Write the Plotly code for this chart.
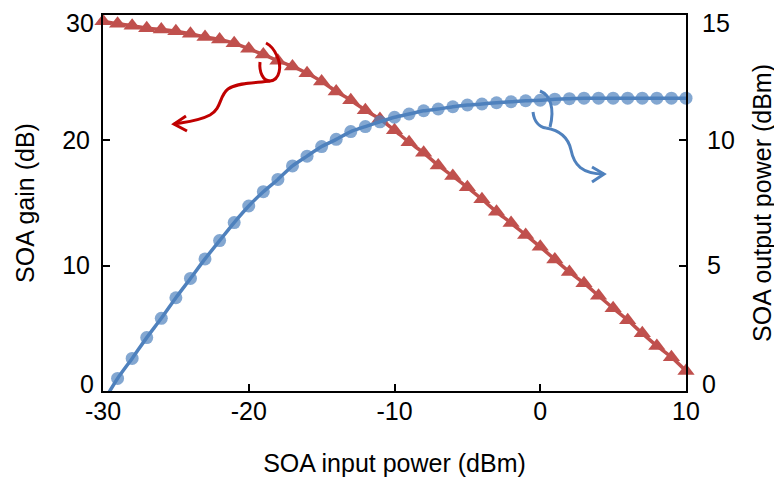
import plotly.graph_objects as go

# ---------------- data ----------------
input_power = [-30, -29, -28, -27, -26, -25, -24, -23, -22, -21, -20,
               -19, -18, -17, -16, -15, -14, -13, -12, -11, -10,
               -9, -8, -7, -6, -5, -4, -3, -2, -1, 0,
               1, 2, 3, 4, 5, 6, 7, 8, 9, 10]

soa_gain_db = [29.5, 29.3, 29.15, 28.95, 28.85, 28.7, 28.5, 28.25, 28.05, 27.75, 27.3,
               26.85, 26.35, 25.9, 25.35, 24.7, 23.9, 23.2, 22.4, 21.7, 20.8,
               19.85, 19.0, 18.0, 17.15, 16.25, 15.3, 14.3, 13.4, 12.45, 11.5,
               10.5, 9.5, 8.6, 7.6, 6.6, 5.65, 4.6, 3.6, 2.7, 1.6]

soa_output_dbm = [-0.45, 0.5, 1.3, 2.13, 2.9, 3.72, 4.49, 5.27, 6.0, 6.72, 7.38,
                  7.95, 8.44, 8.98, 9.37, 9.75, 10.04, 10.35, 10.55, 10.74, 10.92,
                  11.05, 11.18, 11.25, 11.34, 11.41, 11.45, 11.5, 11.54, 11.58, 11.6,
                  11.64, 11.66, 11.68, 11.68, 11.68, 11.68, 11.68, 11.68, 11.68, 11.68]

x_tick_vals = [-30, -20, -10, 0, 10]
x_tick_text = ["-30", "-20", "-10", "0", "10"]
y1_tick_vals = [0, 10, 20, 30]
y1_tick_text = ["0", "10", "20", "30"]
y2_tick_vals = [0, 5, 10, 15]
y2_tick_text = ["0", "5", "10", "15"]

# ---------------- styling ----------------
RED = "#C0504D"
BLUE = "#4F81BD"
ARROW_RED = "#C00000"
FONT = "Liberation Sans, Arial, sans-serif"
TICK_SIZE = 25
BODY = 8                      # default page margin around the plot div
W, H = 782 - BODY, 478 - BODY
PL, PT, PW, PH = 103, 15, 583, 376   # plot area in page pixels
ML, MT = PL - BODY, PT - BODY
MR, MB = W - ML - PW, H - MT - PH

fig = go.Figure()

fig.add_trace(go.Scatter(
    x=input_power, y=soa_gain_db, name="SOA gain",
    mode="lines+markers", line=dict(color=RED, width=3.5, shape="spline", smoothing=0.6),
    marker=dict(symbol="triangle-up", size=15, color=RED, line=dict(width=0)),
    cliponaxis=False, yaxis="y"))

fig.add_trace(go.Scatter(
    x=input_power, y=soa_output_dbm, name="SOA output power",
    mode="lines+markers", line=dict(color=BLUE, width=3.5, shape="spline", smoothing=0.6),
    marker=dict(symbol="circle", size=[0] + [13] * (len(input_power) - 1), color=BLUE,
                line=dict(width=0)),
    cliponaxis=False, yaxis="y2"))


# hand-drawn style pointer arrows (decorations, defined in page pixel space)
def px2d(px, py):
    return (-30 + (px - PL) * 40 / PW, (PT + PH - py) * 30 / PH)


def path(cmds):
    out = []
    for c, pts in cmds:
        coords = " ".join("%.4f,%.4f" % px2d(*p) for p in pts)
        out.append(c + " " + coords)
    return " ".join(out)


red_loop = path([("M", [(260, 62)]), ("C", [(259, 72), (263, 81), (270, 81)]),
                 ("C", [(280, 80), (282, 66), (277, 56)]),
                 ("C", [(274, 49), (270, 45), (266, 43)])])
red_tail = path([("M", [(270, 81)]), ("C", [(258, 83), (238, 82), (228, 89)]),
                 ("C", [(219, 96), (222, 108), (210, 115)]),
                 ("C", [(199, 121), (186, 122), (174, 124)])])
red_head = path([("M", [(186, 116)]), ("L", [(174, 124)]), ("L", [(187, 131)])])

blue_loop = path([("M", [(540, 91)]), ("C", [(550, 95), (555, 108), (550, 127)]),
                  ("M", [(533, 112)]), ("C", [(534, 121), (539, 127), (546, 128)])])
blue_tail = path([("M", [(546, 128)]), ("C", [(558, 130), (568, 136), (571, 150)]),
                  ("C", [(574, 165), (582, 174), (604, 174)])])
blue_head = path([("M", [(592, 167)]), ("L", [(604, 174)]), ("L", [(592, 182)])])

shapes = []
for p, col in [(red_loop, ARROW_RED), (red_tail, ARROW_RED), (red_head, ARROW_RED),
               (blue_loop, BLUE), (blue_tail, BLUE), (blue_head, BLUE)]:
    shapes.append(dict(type="path", path=p, xref="x", yref="y",
                       line=dict(color=col, width=3)))

# end tick labels of the value axes are nudged inward (as in the reference),
# so they are drawn as text annotations and blanked in the axis tick text
tick_font = dict(family=FONT, size=TICK_SIZE, color="black")
annotations = [
    dict(text=y1_tick_text[0], xref="paper", yref="paper", x=0, y=0, xanchor="right",
         yanchor="middle", xshift=-8, yshift=7, showarrow=False, font=tick_font, borderpad=0),
    dict(text=y1_tick_text[-1], xref="paper", yref="paper", x=0, y=1, xanchor="right",
         yanchor="middle", xshift=-8, yshift=-8, showarrow=False, font=tick_font, borderpad=0),
    dict(text=y2_tick_text[0], xref="paper", yref="paper", x=1, y=0, xanchor="left",
         yanchor="middle", xshift=15, yshift=7, showarrow=False, font=tick_font, borderpad=0),
    dict(text=y2_tick_text[-1], xref="paper", yref="paper", x=1, y=1, xanchor="left",
         yanchor="middle", xshift=15, yshift=-8, showarrow=False, font=tick_font, borderpad=0),
]
y1_axis_text = [""] + y1_tick_text[1:-1] + [""]
y2_axis_text = [""] + y2_tick_text[1:-1] + [""]

axis_common = dict(showgrid=False, zeroline=False, showline=True, linecolor="black",
                   linewidth=2, ticks="inside", ticklen=7, tickwidth=2, tickcolor="black",
                   automargin=False, ticklabeloverflow="allow", tickfont=tick_font)

fig.update_layout(
    width=W, height=H,
    margin=dict(l=ML, r=MR, t=MT, b=MB, pad=0, autoexpand=False),
    paper_bgcolor="white", plot_bgcolor="white",
    showlegend=False,
    shapes=shapes,
    annotations=annotations,
    font=dict(family=FONT, color="black"),
    xaxis=dict(range=[-30, 10], tickvals=x_tick_vals, ticktext=x_tick_text,
               mirror=True, ticklabelstandoff=-3,
               title=dict(text="SOA input power (dBm)", font=dict(family=FONT, size=25, color="black"),
                          standoff=30),
               **axis_common),
    yaxis=dict(range=[0, 30], tickvals=y1_tick_vals, ticktext=y1_axis_text, ticklabelstandoff=6,
               title=dict(text="SOA gain (dB)", font=dict(family=FONT, size=25, color="black"),
                          standoff=20),
               **axis_common),
    yaxis2=dict(range=[0, 15], tickvals=y2_tick_vals, ticktext=y2_axis_text, overlaying="y",
                side="right", ticklabelstandoff=14,
                title=dict(text="SOA output power (dBm)", font=dict(family=FONT, size=25, color="black"),
                           standoff=20),
                **axis_common),
)

fig.write_html("out.html")
